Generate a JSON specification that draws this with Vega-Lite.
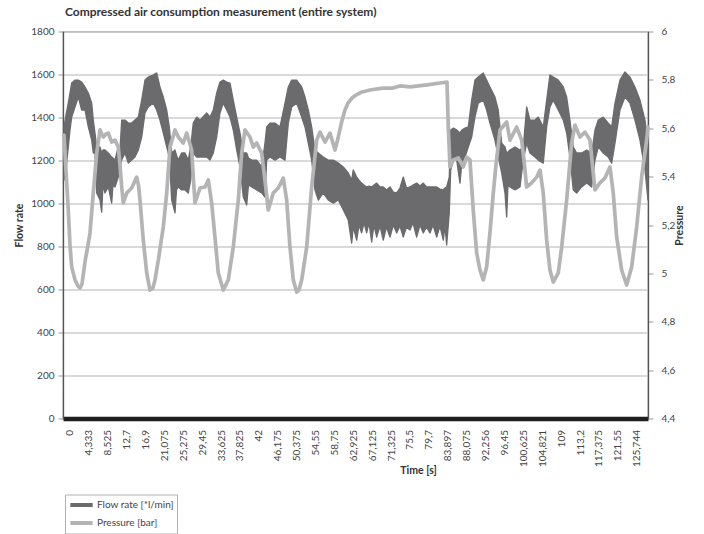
{
  "$schema": "https://vega.github.io/schema/vega-lite/v6.json",
  "autosize": {"type": "none"},
  "padding": {"left": 63, "top": 31.5, "right": 56, "bottom": 115.5},
  "width": 585,
  "height": 387,
  "background": "white",
  "title": {"text": "Compressed air consumption measurement (entire system)", "anchor": "start", "frame": "group", "font": "Lato", "fontSize": 12, "fontWeight": "bold", "color": "#333333", "offset": 8, "dx": 2},
  "config": {
    "view": {"stroke": "#707070", "strokeWidth": 1.2},
    "font": "Lato",
    "axis": {"labelFont": "Lato", "labelFontSize": 10, "labelColor": "#444444", "titleFont": "Lato", "titleFontSize": 10.5, "titleFontWeight": "bold", "titleColor": "#333333", "tickColor": "#999999", "domainColor": "#666666"}
  },
  "datasets": {
    "flow": [
      {"t":0,"lo":1109,"hi":1356},{"t":0.44,"lo":1156,"hi":1411},{"t":0.95,"lo":1263,"hi":1467},{"t":1.33,"lo":1342,"hi":1514},{"t":1.71,"lo":1402,"hi":1560},{"t":2.44,"lo":1449,"hi":1574},{"t":3.17,"lo":1495,"hi":1574},{"t":3.92,"lo":1435,"hi":1565},{"t":4.65,"lo":1435,"hi":1542},{"t":5.39,"lo":1356,"hi":1514},{"t":6.14,"lo":1295,"hi":1467},{"t":6.49,"lo":1235,"hi":1388},{"t":6.87,"lo":1235,"hi":1328},{"t":7.25,"lo":1049,"hi":1263},{"t":7.98,"lo":1016,"hi":1263},{"t":8.35,"lo":960,"hi":1235},{"t":8.64,"lo":1086,"hi":1249},{"t":9.09,"lo":1049,"hi":1249},{"t":9.82,"lo":1077,"hi":1235},{"t":10.57,"lo":1002,"hi":1216},{"t":10.86,"lo":1086,"hi":1212},{"t":11.3,"lo":1077,"hi":1202},{"t":12.03,"lo":1123,"hi":1263},{"t":12.41,"lo":1170,"hi":1249},{"t":12.79,"lo":1202,"hi":1388},{"t":13.52,"lo":1235,"hi":1388},{"t":14.25,"lo":1188,"hi":1374},{"t":15.0,"lo":1202,"hi":1374},{"t":15.73,"lo":1216,"hi":1388},{"t":16.47,"lo":1249,"hi":1402},{"t":17.22,"lo":1309,"hi":1481},{"t":17.95,"lo":1421,"hi":1574},{"t":18.68,"lo":1449,"hi":1588},{"t":19.79,"lo":1467,"hi":1598},{"t":20.54,"lo":1435,"hi":1607},{"t":21.27,"lo":1388,"hi":1542},{"t":22.01,"lo":1328,"hi":1495},{"t":22.76,"lo":1263,"hi":1435},{"t":23.34,"lo":1216,"hi":1356},{"t":23.87,"lo":1016,"hi":1235},{"t":24.6,"lo":956,"hi":1249},{"t":24.93,"lo":1063,"hi":1225},{"t":25.33,"lo":1077,"hi":1202},{"t":26.08,"lo":1063,"hi":1235},{"t":26.81,"lo":1063,"hi":1235},{"t":27.55,"lo":1049,"hi":1202},{"t":28.08,"lo":1109,"hi":1263},{"t":28.65,"lo":1235,"hi":1374},{"t":29.41,"lo":1216,"hi":1402},{"t":30.14,"lo":1216,"hi":1388},{"t":31.62,"lo":1216,"hi":1421},{"t":32.36,"lo":1202,"hi":1402},{"t":33.09,"lo":1235,"hi":1435},{"t":33.84,"lo":1309,"hi":1514},{"t":34.57,"lo":1421,"hi":1565},{"t":35.3,"lo":1467,"hi":1574},{"t":36.06,"lo":1435,"hi":1565},{"t":36.79,"lo":1402,"hi":1560},{"t":37.52,"lo":1342,"hi":1481},{"t":38.27,"lo":1249,"hi":1402},{"t":39.0,"lo":1170,"hi":1328},{"t":39.74,"lo":1030,"hi":1235},{"t":40.49,"lo":993,"hi":1235},{"t":40.89,"lo":1086,"hi":1212},{"t":41.6,"lo":1077,"hi":1202},{"t":42.71,"lo":1063,"hi":1202},{"t":43.81,"lo":1049,"hi":1170},{"t":44.54,"lo":1030,"hi":1281},{"t":44.92,"lo":1202,"hi":1356},{"t":45.65,"lo":1216,"hi":1374},{"t":46.76,"lo":1202,"hi":1374},{"t":47.87,"lo":1216,"hi":1356},{"t":48.98,"lo":1202,"hi":1467},{"t":49.71,"lo":1374,"hi":1542},{"t":50.46,"lo":1449,"hi":1574},{"t":51.57,"lo":1467,"hi":1574},{"t":52.68,"lo":1402,"hi":1542},{"t":53.41,"lo":1356,"hi":1495},{"t":54.14,"lo":1281,"hi":1435},{"t":54.89,"lo":1202,"hi":1356},{"t":55.62,"lo":1063,"hi":1249},{"t":56.36,"lo":1016,"hi":1235},{"t":57.46,"lo":1049,"hi":1216},{"t":58.57,"lo":1016,"hi":1202},{"t":59.68,"lo":1002,"hi":1202},{"t":60.79,"lo":1016,"hi":1188},{"t":61.9,"lo":970,"hi":1170},{"t":63.0,"lo":923,"hi":1142},{"t":63.76,"lo":816,"hi":1109},{"t":64.11,"lo":891,"hi":1156},{"t":64.87,"lo":830,"hi":1123},{"t":65.38,"lo":900,"hi":1109},{"t":65.97,"lo":863,"hi":1095},{"t":66.48,"lo":910,"hi":1086},{"t":67.08,"lo":863,"hi":1077},{"t":67.59,"lo":910,"hi":1081},{"t":68.19,"lo":821,"hi":1077},{"t":68.7,"lo":900,"hi":1086},{"t":69.3,"lo":844,"hi":1095},{"t":70.03,"lo":895,"hi":1077},{"t":70.76,"lo":830,"hi":1077},{"t":71.47,"lo":891,"hi":1063},{"t":72.25,"lo":844,"hi":1077},{"t":72.98,"lo":900,"hi":1053},{"t":73.73,"lo":863,"hi":1049},{"t":74.46,"lo":895,"hi":1072},{"t":75.19,"lo":844,"hi":1123},{"t":75.9,"lo":891,"hi":1072},{"t":76.68,"lo":877,"hi":1077},{"t":77.34,"lo":910,"hi":1086},{"t":78.16,"lo":844,"hi":1095},{"t":78.89,"lo":900,"hi":1081},{"t":79.63,"lo":863,"hi":1095},{"t":80.33,"lo":891,"hi":1077},{"t":81.11,"lo":863,"hi":1077},{"t":81.78,"lo":900,"hi":1077},{"t":82.6,"lo":844,"hi":1077},{"t":83.33,"lo":895,"hi":1067},{"t":84.06,"lo":830,"hi":1063},{"t":84.43,"lo":895,"hi":1072},{"t":84.81,"lo":807,"hi":1077},{"t":85.39,"lo":956,"hi":1123},{"t":85.7,"lo":1156,"hi":1342},{"t":86.32,"lo":1202,"hi":1351},{"t":87.03,"lo":1202,"hi":1342},{"t":87.76,"lo":1095,"hi":1328},{"t":88.2,"lo":1193,"hi":1342},{"t":88.87,"lo":1216,"hi":1351},{"t":89.6,"lo":1263,"hi":1356},{"t":90.35,"lo":1309,"hi":1481},{"t":91.08,"lo":1402,"hi":1574},{"t":91.81,"lo":1467,"hi":1588},{"t":92.92,"lo":1481,"hi":1607},{"t":93.67,"lo":1435,"hi":1574},{"t":94.4,"lo":1374,"hi":1542},{"t":95.51,"lo":1295,"hi":1495},{"t":96.24,"lo":1216,"hi":1435},{"t":97.0,"lo":1142,"hi":1281},{"t":97.73,"lo":1049,"hi":1263},{"t":98.11,"lo":937,"hi":1235},{"t":98.4,"lo":1086,"hi":1240},{"t":98.84,"lo":1077,"hi":1249},{"t":99.95,"lo":1063,"hi":1263},{"t":101.06,"lo":1077,"hi":1249},{"t":101.79,"lo":1202,"hi":1263},{"t":102.54,"lo":1281,"hi":1449},{"t":103.27,"lo":1235,"hi":1388},{"t":104.38,"lo":1216,"hi":1388},{"t":105.11,"lo":1202,"hi":1402},{"t":106.22,"lo":1188,"hi":1356},{"t":106.97,"lo":1356,"hi":1481},{"t":107.7,"lo":1449,"hi":1598},{"t":108.44,"lo":1481,"hi":1588},{"t":109.54,"lo":1435,"hi":1574},{"t":110.65,"lo":1388,"hi":1542},{"t":111.4,"lo":1328,"hi":1495},{"t":112.13,"lo":1216,"hi":1388},{"t":112.87,"lo":1063,"hi":1263},{"t":113.62,"lo":1049,"hi":1235},{"t":114.73,"lo":1077,"hi":1235},{"t":115.84,"lo":1095,"hi":1249},{"t":116.94,"lo":1077,"hi":1235},{"t":117.68,"lo":1202,"hi":1342},{"t":118.41,"lo":1263,"hi":1388},{"t":119.52,"lo":1235,"hi":1402},{"t":120.63,"lo":1216,"hi":1374},{"t":121.38,"lo":1188,"hi":1356},{"t":122.11,"lo":1281,"hi":1467},{"t":123.22,"lo":1435,"hi":1574},{"t":124.33,"lo":1495,"hi":1612},{"t":125.43,"lo":1467,"hi":1588},{"t":126.54,"lo":1388,"hi":1542},{"t":127.65,"lo":1295,"hi":1481},{"t":128.76,"lo":1156,"hi":1388},{"t":129.43,"lo":1016,"hi":1281}
    ],
    "pressure": [
      {"t":0,"p":5.572},{"t":0.44,"p":5.427},{"t":0.95,"p":5.262},{"t":1.33,"p":5.117},{"t":1.71,"p":5.026},{"t":2.44,"p":4.973},{"t":3.1,"p":4.948},{"t":3.55,"p":4.94},{"t":3.99,"p":4.956},{"t":4.65,"p":5.047},{"t":5.32,"p":5.117},{"t":5.76,"p":5.167},{"t":6.49,"p":5.332},{"t":7.25,"p":5.497},{"t":7.98,"p":5.593},{"t":8.71,"p":5.564},{"t":9.31,"p":5.576},{"t":9.82,"p":5.58},{"t":10.57,"p":5.543},{"t":11.3,"p":5.551},{"t":12.03,"p":5.522},{"t":12.41,"p":5.448},{"t":12.79,"p":5.357},{"t":13.14,"p":5.291},{"t":13.9,"p":5.332},{"t":15.0,"p":5.353},{"t":16.11,"p":5.398},{"t":16.51,"p":5.365},{"t":16.84,"p":5.303},{"t":17.57,"p":5.138},{"t":18.33,"p":5.002},{"t":19.06,"p":4.931},{"t":19.72,"p":4.94},{"t":20.17,"p":4.973},{"t":20.9,"p":5.055},{"t":22.01,"p":5.192},{"t":22.76,"p":5.332},{"t":23.49,"p":5.522},{"t":24.6,"p":5.593},{"t":25.33,"p":5.564},{"t":26.44,"p":5.539},{"t":27.19,"p":5.58},{"t":28.3,"p":5.51},{"t":28.7,"p":5.386},{"t":29.03,"p":5.291},{"t":30.14,"p":5.353},{"t":31.25,"p":5.357},{"t":31.98,"p":5.386},{"t":32.73,"p":5.291},{"t":33.46,"p":5.15},{"t":34.19,"p":5.002},{"t":35.3,"p":4.931},{"t":36.41,"p":4.973},{"t":37.52,"p":5.109},{"t":38.63,"p":5.303},{"t":39.38,"p":5.497},{"t":40.11,"p":5.593},{"t":41.22,"p":5.564},{"t":41.95,"p":5.522},{"t":42.71,"p":5.539},{"t":43.81,"p":5.497},{"t":44.54,"p":5.386},{"t":45.27,"p":5.262},{"t":46.38,"p":5.332},{"t":47.49,"p":5.353},{"t":48.6,"p":5.394},{"t":49.35,"p":5.303},{"t":50.08,"p":5.109},{"t":50.82,"p":4.973},{"t":51.57,"p":4.923},{"t":52.08,"p":4.931},{"t":52.68,"p":4.973},{"t":53.79,"p":5.109},{"t":54.89,"p":5.357},{"t":56.0,"p":5.551},{"t":56.73,"p":5.584},{"t":57.84,"p":5.543},{"t":58.95,"p":5.58},{"t":60.06,"p":5.51},{"t":60.79,"p":5.564},{"t":61.54,"p":5.626},{"t":62.27,"p":5.675},{"t":62.94,"p":5.704},{"t":63.82,"p":5.725},{"t":64.71,"p":5.737},{"t":66.04,"p":5.75},{"t":67.81,"p":5.758},{"t":70.69,"p":5.766},{"t":72.91,"p":5.766},{"t":74.46,"p":5.775},{"t":76.68,"p":5.771},{"t":80.45,"p":5.779},{"t":83.33,"p":5.787},{"t":84.88,"p":5.791},{"t":85.17,"p":5.605},{"t":85.54,"p":5.44},{"t":86.27,"p":5.469},{"t":87.38,"p":5.477},{"t":88.49,"p":5.44},{"t":89.24,"p":5.481},{"t":89.97,"p":5.469},{"t":90.7,"p":5.262},{"t":91.46,"p":5.084},{"t":92.19,"p":5.014},{"t":92.92,"p":4.973},{"t":93.67,"p":5.026},{"t":94.4,"p":5.167},{"t":95.14,"p":5.332},{"t":95.74,"p":5.448},{"t":96.62,"p":5.593},{"t":98.11,"p":5.626},{"t":98.84,"p":5.551},{"t":100.32,"p":5.605},{"t":101.43,"p":5.551},{"t":101.94,"p":5.469},{"t":102.54,"p":5.357},{"t":103.65,"p":5.374},{"t":104.76,"p":5.398},{"t":105.49,"p":5.427},{"t":106.22,"p":5.332},{"t":106.97,"p":5.138},{"t":107.7,"p":5.014},{"t":108.44,"p":4.964},{"t":109.54,"p":5.002},{"t":110.3,"p":5.109},{"t":111.4,"p":5.303},{"t":112.51,"p":5.539},{"t":113.24,"p":5.613},{"t":114.35,"p":5.564},{"t":115.46,"p":5.584},{"t":116.57,"p":5.551},{"t":117.12,"p":5.448},{"t":117.68,"p":5.345},{"t":118.78,"p":5.374},{"t":119.89,"p":5.394},{"t":121.0,"p":5.44},{"t":121.73,"p":5.332},{"t":122.49,"p":5.15},{"t":123.59,"p":5.014},{"t":124.7,"p":4.952},{"t":125.81,"p":5.026},{"t":126.92,"p":5.192},{"t":128.02,"p":5.398},{"t":129.13,"p":5.551},{"t":129.43,"p":5.605}
    ]
  },
  "encoding": {
    "x": {
      "field": "t", "type": "quantitative",
      "scale": {"domain": [-0.22, 129.43], "nice": false, "zero": false},
      "axis": {
        "values": [0,4.333,8.525,12.7,16.9,21.075,25.275,29.45,33.625,37.825,42,46.175,50.375,54.55,58.75,62.925,67.125,71.325,75.5,79.7,83.897,88.075,92.256,96.45,100.625,104.821,109,113.2,117.375,121.55,125.744],
        "labelExpr": "replace(toString(datum.value), '.', ',')",
        "labelAngle": 270, "labelOffset": 5.3, "labelPadding": 11, "labelOverlap": false, "labelBound": false,
        "ticks": false, "grid": false,
        "domainColor": "#1e1e1e", "domainWidth": 4.5,
        "title": "Time [s]", "titleX": 355, "titleY": 52, "titleBaseline": "middle", "titleAlign": "center"
      }
    }
  },
  "layer": [
    {
      "data": {"name": "flow"},
      "mark": {"type": "area", "stroke": "#6b6b6d", "strokeWidth": 1.3, "strokeJoin": "round", "opacity": 1},
      "encoding": {
        "y": {"field": "lo", "type": "quantitative", "scale": {"domain": [0, 1800], "nice": false},
          "axis": {"orient": "left", "values": [0,200,400,600,800,1000,1200,1400,1600,1800], "format": "d", "grid": true, "gridColor": "#cccccc", "gridWidth": 1.5, "tickSize": 5, "labelPadding": 4, "title": "Flow rate", "titlePadding": 6, "domainColor": "#555555", "domainWidth": 1.3}},
        "y2": {"field": "hi"},
        "color": {"datum": "Flow rate [*l/min]", "type": "nominal",
          "scale": {"domain": ["Flow rate [*l/min]", "Pressure [bar]"], "range": ["#6b6b6d", "#b4b4b4"]},
          "legend": {"orient": "none", "legendX": 2, "legendY": 463, "title": null, "symbolType": "stroke", "symbolSize": 500, "symbolStrokeWidth": 4, "clipHeight": 15, "labelFont": "Lato", "labelFontSize": 10, "labelColor": "#444444", "strokeColor": "#b0b0b0", "padding": 3, "rowPadding": 3, "labelOffset": 2,
            "encode": {"symbols": {"update": {"stroke": {"field": "value", "scale": "color"}, "strokeWidth": {"value": 4}}}}}}
      }
    },
    {
      "data": {"name": "pressure"},
      "mark": {"type": "line", "strokeWidth": 3.7, "strokeJoin": "round", "strokeCap": "round"},
      "encoding": {
        "y": {"field": "p", "type": "quantitative", "scale": {"domain": [4.4, 6], "nice": false, "zero": false},
          "axis": {"orient": "right", "values": [4.4,4.6,4.8,5,5.2,5.4,5.6,5.8,6], "labelExpr": "replace(toString(datum.value), '.', ',')", "grid": false, "tickSize": 5, "labelPadding": 8, "title": "Pressure", "titleAngle": 270, "titlePadding": 10, "domainColor": "#555555", "domainWidth": 1.3}},
        "color": {"datum": "Pressure [bar]", "type": "nominal"}
      }
    }
  ],
  "resolve": {"scale": {"y": "independent"}}
}
